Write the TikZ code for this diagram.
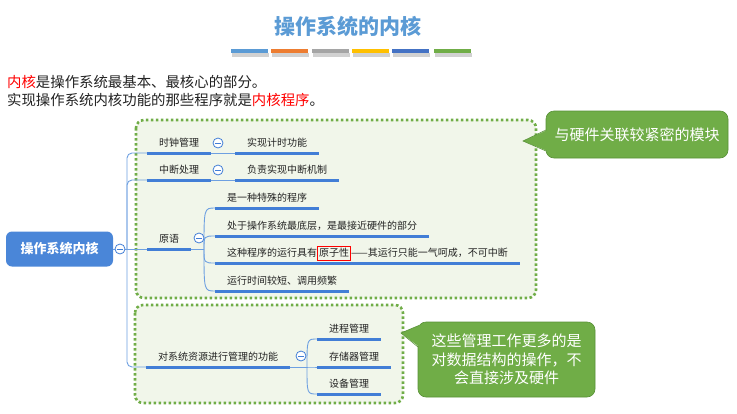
\documentclass[tikz,border=0pt]{standalone}
\usepackage{fontspec}
\setmainfont{Noto Sans CJK SC}
\definecolor{ublue}{RGB}{66,126,214}
\definecolor{cblue}{RGB}{110,160,225}
\definecolor{rootblue}{RGB}{74,134,216}
\definecolor{boxfill}{RGB}{241,246,234}
\definecolor{dotgreen}{RGB}{112,173,71}
\definecolor{cgreen}{RGB}{112,173,71}
\definecolor{cborder}{RGB}{88,145,55}
\definecolor{titleblue}{RGB}{91,155,213}
\definecolor{txt}{RGB}{35,35,35}
\definecolor{barA}{RGB}{91,155,213}
\definecolor{barB}{RGB}{237,125,49}
\definecolor{barC}{RGB}{165,165,165}
\definecolor{barD}{RGB}{255,192,0}
\definecolor{barE}{RGB}{68,114,196}
\definecolor{barF}{RGB}{112,173,71}
\begin{document}
\begin{tikzpicture}[x=1pt,y=-1pt,
  topic/.style={font=\fontsize{10}{12}\selectfont, text=txt, inner xsep=12pt, inner ysep=4pt, text height=8pt, text depth=2pt, anchor=south west},
  uline/.style={draw=ublue, line width=3pt},
  conn/.style={draw=cblue, line width=0.9pt},
  fold/.style={circle, draw=ublue, fill=white, line width=0.8pt, minimum size=10pt, inner sep=0pt},
  dotbox/.style={draw=dotgreen, fill=boxfill, line width=2.6pt, dash pattern=on 2.6pt off 2.4pt, rounded corners=8pt},
  callout/.style={fill=cgreen, draw=cborder, line width=0.6pt, rounded corners=8pt, text=white, align=center, inner sep=0pt},
  rootnode/.style={fill=rootblue, rounded corners=6pt, minimum width=107pt, minimum height=35pt, text=white, font=\fontsize{13}{15}\selectfont\bfseries},
  plain/.style={font=\fontsize{14.4}{17}\selectfont, text=txt, inner sep=0pt, anchor=west}
]
\useasboundingbox (0,0) rectangle (737,413);
\fill[white] (0,0) rectangle (737,413);

% title
\node[font=\fontsize{21}{24}\selectfont\bfseries, text=titleblue, inner sep=0pt] (title) at (348,26) {操作系统的内核};
% colour bars
\foreach \xa/\xb/\c in {231/268/barA, 271/308/barB, 312/349/barC, 352/389/barD, 392/429/barE, 434/471/barF}{
  \fill[black, opacity=0.18] (\xa+1,52.5) rectangle (\xb+1,56.5);
  \fill[\c] (\xa,49) rectangle (\xb,53);
}

% intro lines
\node[plain] (l1) at (7,82) {\textcolor{red}{内核}是操作系统最基本、最核心的部分。};
\node[plain] (l2) at (7,100) {实现操作系统内核功能的那些程序就是\textcolor{red}{内核程序}。};

% dotted boxes
\draw[dotbox] (136,120) rectangle (536,298);
\draw[dotbox] (135,305) rectangle (403,403);

% callouts
\node[callout, minimum width=182pt, minimum height=47pt, font=\fontsize{15}{18}\selectfont] (co1) at (637,134.5) {与硬件关联较紧密的模块};
\coordinate (tip1) at (523,141);
\fill[cgreen] (547.5,130) -- (tip1) -- (547.5,151) -- cycle;
\draw[cborder, line width=0.6pt] (546,130) -- (tip1) -- (546,151);

\node[callout, minimum width=177pt, minimum height=75pt, font=\fontsize{15}{18.5}\selectfont] (co2) at (506.5,359.5) {这些管理工作更多的是\\对数据结构的操作，不\\会直接涉及硬件};
\coordinate (tip2) at (401,333);
\fill[cgreen] (420,325) -- (tip2) -- (419.5,347) -- cycle;
\draw[cborder, line width=0.6pt] (418.8,325.5) -- (tip2) -- (418,347);

% root
\node[rootnode] (root) at (59.5,249) {操作系统内核};

% topics
\node[topic] (b1) at (147,153) {时钟管理};
\node[topic] (c1) at (235,153) {实现计时功能};
\node[topic] (b2) at (147,180) {中断处理};
\node[topic] (c2) at (235,180) {负责实现中断机制};
\node[topic] (b3) at (147,249) {原语};
\node[topic] (p1) at (215,208) {是一种特殊的程序};
\node[topic] (p2) at (215,236) {处于操作系统最底层，是最接近硬件的部分};
\node[topic] (p3) at (215,263) {这种程序的运行具有{\setlength{\fboxsep}{0.8pt}\setlength{\fboxrule}{1.2pt}\textcolor{red}{\fbox{\rule[-2.5pt]{0pt}{11.5pt}\textcolor{txt}{原子性}}}}——其运行只能一气呵成，不可中断};
\node[topic] (p4) at (215,291) {运行时间较短、调用频繁};
\node[topic] (b4) at (146,367) {对系统资源进行管理的功能};
\node[topic] (q1) at (317,339) {进程管理};
\node[topic] (q2) at (317,367) {存储器管理};
\node[topic] (q3) at (317,394) {设备管理};

% connectors
\coordinate (t) at (127,249);
\coordinate (j3) at (204,249);
\coordinate (j4) at (307,367);
\draw[conn] (root.east) -- (t);
\draw[conn, rounded corners=5pt] (t) |- (b1.south west);
\draw[conn, rounded corners=5pt] (t) |- (b2.south west);
\draw[conn, rounded corners=5pt] (t) |- (b4.south west);
\draw[conn] (t) -- (b3.south west);
\draw[conn] (b1.south east) -- (c1.south west);
\draw[conn] (b2.south east) -- (c2.south west);
\draw[conn] (b3.south east) -- (j3);
\foreach \n in {p1,p2,p3,p4}{
  \draw[conn] (j3) .. controls (j3 |- \n.south west) .. (\n.south west);
}
\draw[conn] (b4.south east) -- (j4);
\foreach \n in {q1,q2,q3}{
  \draw[conn] (j4) .. controls (j4 |- \n.south west) .. (\n.south west);
}

% underlines
\foreach \n in {b1,c1,b2,c2,b3,p1,p2,p3,p4,b4,q1,q2,q3}{
  \draw[uline] (\n.south west) -- (\n.south east);
}

% fold marks
\node[fold] (m0) at (120,249) {};
\node[fold] (m1) at (218,143) {};
\node[fold] (m2) at (218,170) {};
\node[fold] (m3) at (199,238) {};
\node[fold] (m4) at (301,356) {};
\foreach \n in {m0,m1,m2,m3,m4}{
  \draw[ublue, line width=0.8pt] ([xshift=-2.6pt]\n.center) -- ([xshift=2.6pt]\n.center);
}
\end{tikzpicture}
\end{document}
